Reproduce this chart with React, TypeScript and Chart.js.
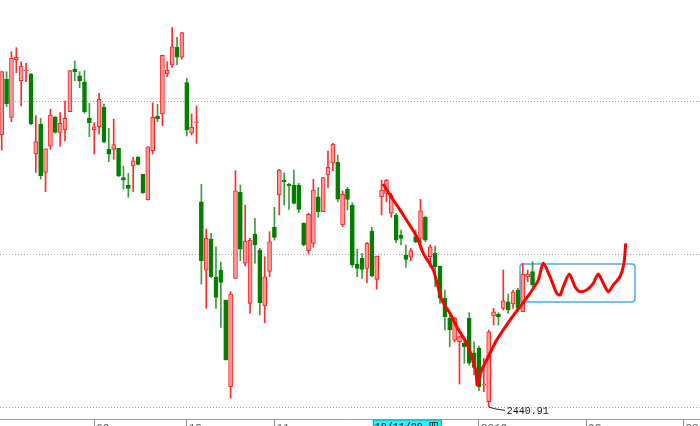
import React, { useEffect, useRef } from 'react';
import { Chart, registerables } from 'chart.js';

Chart.register(...registerables);

// Daily candles (index 0 = first visible trading day)
const OPEN = [
  2721.6, 2779.2, 2739.9, 2799.2, 2777.8, 2787.8, 2784.7, 2702.0, 2732.7, 2683.0,
  2710.2, 2740.5, 2724.4, 2726.8, 2745.7, 2789.9, 2782.9, 2776.7, 2739.2, 2726.8,
  2730.2, 2750.3, 2706.8, 2706.8, 2707.9, 2677.5, 2669.6, 2689.6, 2698.6, 2681.0,
  2654.4, 2705.4, 2741.3, 2743.3, 2784.7, 2794.0, 2812.3, 2802.0, 2775.7, 2723.4,
  2734.0, 2652.6, 2582.0, 2614.1, 2575.1, 2582.0, 2551.0, 2461.4, 2573.4, 2662.4,
  2589.0, 2547.6, 2618.9, 2602.7, 2544.8, 2580.7, 2626.2, 2659.6, 2675.1, 2670.6,
  2669.9, 2669.9, 2630.3, 2602.0, 2609.6, 2657.8, 2642.3, 2680.3, 2692.4, 2693.4,
  2628.6, 2665.5, 2649.2, 2587.9, 2594.1, 2583.8, 2622.4, 2572.4, 2657.8, 2661.3,
  2640.7, 2638.9, 2618.2, 2597.5, 2595.2, 2616.5, 2614.8, 2636.5, 2595.8, 2599.3,
  2586.2, 2552.8, 2532.1, 2509.6, 2507.9, 2506.2, 2532.1, 2496.5, 2501.1, 2463.1,
  2445.8, 2534.5, 2536.5, 2542.4, 2549.2, 2546.9, 2561.3, 2538.9, 2575.1, 2580.3,
];
const HIGH = [
  2787.1, 2787.1, 2807.7, 2811.9, 2797.4, 2795.8, 2785.4, 2741.6, 2738.9, 2707.4,
  2748.2, 2740.5, 2744.7, 2756.8, 2788.1, 2798.1, 2787.1, 2788.1, 2754.4, 2734.3,
  2764.7, 2753.7, 2728.5, 2737.8, 2707.9, 2689.6, 2682.0, 2698.6, 2699.2, 2681.0,
  2709.5, 2755.0, 2753.4, 2804.0, 2797.4, 2832.6, 2822.6, 2827.4, 2780.2, 2743.3,
  2751.6, 2670.6, 2624.4, 2620.0, 2606.1, 2590.3, 2551.0, 2559.6, 2684.7, 2669.9,
  2649.2, 2614.8, 2635.5, 2604.5, 2595.8, 2621.6, 2646.9, 2686.1, 2682.6, 2671.7,
  2685.4, 2671.7, 2630.9, 2640.7, 2675.8, 2667.5, 2677.5, 2705.1, 2713.0, 2700.9,
  2663.7, 2667.5, 2651.6, 2603.4, 2599.3, 2610.3, 2626.2, 2596.5, 2675.1, 2675.8,
  2661.3, 2640.7, 2623.4, 2607.9, 2604.5, 2623.4, 2655.1, 2637.9, 2607.9, 2606.8,
  2586.2, 2561.3, 2537.9, 2533.1, 2513.8, 2509.6, 2537.9, 2507.9, 2503.4, 2490.7,
  2520.0, 2542.4, 2537.9, 2582.0, 2557.2, 2561.3, 2563.1, 2589.0, 2582.0, 2590.6,
];
const LOW = [
  2706.1, 2750.9, 2735.4, 2786.0, 2751.6, 2776.7, 2732.0, 2683.0, 2676.1, 2663.0,
  2706.8, 2723.4, 2710.2, 2715.4, 2745.7, 2777.8, 2770.5, 2744.1, 2719.9, 2702.0,
  2722.6, 2713.7, 2694.0, 2696.5, 2678.5, 2665.5, 2657.2, 2663.0, 2690.6, 2661.3,
  2654.4, 2702.0, 2735.4, 2731.2, 2781.9, 2791.6, 2794.0, 2799.9, 2720.6, 2721.6,
  2713.0, 2567.5, 2542.4, 2574.5, 2542.4, 2522.8, 2489.0, 2449.4, 2573.4, 2591.6,
  2586.2, 2537.3, 2589.0, 2535.5, 2527.5, 2575.1, 2613.0, 2638.9, 2649.2, 2644.8,
  2650.3, 2641.3, 2606.8, 2598.6, 2605.5, 2636.5, 2642.3, 2667.5, 2684.7, 2652.6,
  2626.8, 2644.1, 2584.8, 2575.1, 2573.4, 2568.9, 2575.1, 2562.1, 2638.9, 2652.6,
  2636.5, 2610.3, 2607.9, 2584.8, 2591.6, 2610.3, 2609.6, 2611.3, 2585.4, 2564.8,
  2547.6, 2520.0, 2502.7, 2507.9, 2464.1, 2485.6, 2483.8, 2473.5, 2457.2, 2456.2,
  2440.91, 2525.2, 2525.2, 2540.7, 2537.3, 2542.4, 2538.9, 2538.9, 2569.9, 2564.8,
];
const CLOSE = [
  2787.1, 2753.7, 2800.9, 2802.0, 2793.0, 2788.1, 2733.0, 2714.7, 2679.5, 2707.4,
  2742.3, 2724.4, 2733.7, 2738.9, 2788.1, 2786.8, 2777.5, 2745.7, 2734.3, 2730.2,
  2758.5, 2714.7, 2701.7, 2711.6, 2679.2, 2675.1, 2666.5, 2695.0, 2691.3, 2662.0,
  2709.5, 2739.9, 2738.2, 2804.0, 2788.8, 2812.9, 2802.0, 2827.4, 2726.8, 2729.6,
  2734.3, 2591.6, 2614.8, 2575.1, 2553.8, 2569.3, 2489.0, 2557.2, 2664.0, 2603.7,
  2612.0, 2613.0, 2607.9, 2548.2, 2575.1, 2611.3, 2615.8, 2685.4, 2673.3, 2669.2,
  2651.0, 2644.8, 2607.9, 2639.6, 2664.7, 2642.3, 2677.5, 2688.2, 2712.3, 2655.4,
  2660.3, 2655.1, 2587.2, 2583.8, 2582.7, 2609.6, 2575.8, 2596.5, 2664.7, 2675.1,
  2659.6, 2613.0, 2614.8, 2593.1, 2602.0, 2611.3, 2643.3, 2613.0, 2606.1, 2585.4,
  2552.8, 2533.7, 2520.0, 2532.1, 2513.1, 2502.7, 2485.6, 2481.4, 2461.4, 2464.1,
  2518.2, 2538.9, 2533.7, 2550.3, 2540.7, 2559.6, 2542.4, 2577.9, 2577.9, 2566.5,
];

// Axis ticks (positions are trading-day indices)
const X_TICK_POS = [19, 38, 56, 98, 120, 140];
const X_TICK_LABELS = ['09', '10', '11', '2019', '02', '03'];
const GRID_LEVELS = [2439.8, 2598.0, 2756.2];
const X_RANGE = [-0.35, 143.39];
const Y_RANGE = [2428.0, 2861.2];

// Hand-drawn trend line (index, price)
const TREND_X = [
  78.3, 80.41, 82.46, 85.22, 86.57, 88.62, 90.35, 92.05, 93.43, 95.48, 96.51, 97.39,
  97.66, 98.56, 99.59, 101.64, 104.37, 106.43, 108.48, 110.18, 111.21, 112.59, 113.96,
  114.64, 115.32, 116.55, 117.72, 118.75, 120.12, 121.48, 122.5, 123.53, 124.56,
  125.58, 126.96, 127.78, 128.13,
];
const TREND_Y = [
  2670.9, 2654.4, 2638.9, 2616.5, 2599.3, 2582.0, 2551.0, 2537.3, 2523.4, 2506.2,
  2492.4, 2476.9, 2463.1, 2478.6, 2489.0, 2509.6, 2530.3, 2544.1, 2557.9, 2571.7,
  2589.0, 2575.1, 2557.9, 2556.2, 2564.8, 2577.9, 2564.8, 2559.6, 2561.3, 2568.3,
  2577.9, 2568.3, 2559.6, 2566.5, 2575.1, 2589.0, 2609.6,
];

// Blue box (index range, price range)
const BOX_X = [106.43, 130.04];
const BOX_Y = [2548.9, 2588.2];

// Low marker and cursor label
const LOW_INDEX = 100;
const LOW_VALUE = 2440.91;
const LOW_LABEL = '2440.91';
const CURSOR_INDEX = 76;
const CURSOR_LABEL = '18/11/29 四';

const MONO = '"Liberation Mono", "Noto Sans CJK SC", monospace';

const overlayPlugin = {
  id: 'overlay',
  beforeDatasetsDraw(chart: any) {
    const { ctx, scales } = chart;
    const x = scales.x, y = scales.y;
    const x0 = x.getPixelForValue(BOX_X[0]);
    const x1 = x.getPixelForValue(BOX_X[1]);
    const y0 = y.getPixelForValue(BOX_Y[1]);
    const y1 = y.getPixelForValue(BOX_Y[0]);
    ctx.save();
    ctx.strokeStyle = '#52a8ec';
    ctx.lineWidth = 1.5;
    ctx.beginPath();
    if (ctx.roundRect) ctx.roundRect(x0, y0, x1 - x0, y1 - y0, 3);
    else ctx.rect(x0, y0, x1 - x0, y1 - y0);
    ctx.stroke();
    ctx.restore();
  },
  afterDatasetsDraw(chart: any) {
    const { ctx, scales } = chart;
    const px = scales.x.getPixelForValue(LOW_INDEX);
    const py = scales.y.getPixelForValue(LOW_VALUE);
    ctx.save();
    ctx.strokeStyle = '#222';
    ctx.lineWidth = 1;
    ctx.beginPath();
    ctx.moveTo(px, py + 0.5);
    ctx.lineTo(px + 5.6, py + 2.2);
    ctx.lineTo(px + 16.3, py + 3.9);
    ctx.stroke();
    ctx.fillStyle = '#111';
    ctx.font = '10px ' + MONO;
    ctx.textBaseline = 'middle';
    ctx.textAlign = 'left';
    ctx.fillText(LOW_LABEL, px + 18, py + 4.5);
    ctx.restore();
  },
  afterDraw(chart: any) {
    const { ctx, scales, chartArea } = chart;
    const px = scales.x.getPixelForValue(CURSOR_INDEX);
    const top = chartArea.bottom + 0.5;
    ctx.save();
    ctx.fillStyle = '#2ef0f4';
    ctx.fillRect(px + 1, top, 69, 12);
    ctx.strokeStyle = '#1aa0a8';
    ctx.lineWidth = 1;
    ctx.strokeRect(px + 1.5, top + 0.5, 68, 12);
    ctx.fillStyle = '#000';
    ctx.font = '10px ' + MONO;
    ctx.textBaseline = 'top';
    ctx.textAlign = 'left';
    ctx.fillText(CURSOR_LABEL, px + 3, top + 2.5);
    ctx.restore();
  },
};

export default function App() {
  const ref = useRef<HTMLCanvasElement>(null);

  useEffect(() => {
    const idx = OPEN.map((_, i) => i);
    const up = OPEN.map((o, i) => CLOSE[i] >= o);

    const chart = new Chart(ref.current as HTMLCanvasElement, {
      type: 'bar',
      data: {
        datasets: [
          {
            type: 'bar',
            data: idx.map((i) => ({ x: i, y: [LOW[i], HIGH[i]] })) as any,
            backgroundColor: up.map((u) => (u ? '#ff2a2a' : '#3c9c3c')),
            borderWidth: 0,
            barThickness: 1,
            grouped: false,
            order: 3,
          } as any,
          {
            type: 'bar',
            data: idx.map((i) => ({ x: i, y: [OPEN[i], CLOSE[i]] })) as any,
            backgroundColor: up.map((u) => (u ? '#ff9a9a' : '#007f00')),
            borderColor: up.map((u) => (u ? '#ff2020' : '#007f00')),
            borderWidth: 1,
            borderSkipped: false,
            barThickness: 4,
            minBarLength: 1,
            grouped: false,
            order: 2,
          } as any,
          {
            type: 'line',
            data: TREND_X.map((v, i) => ({ x: v, y: TREND_Y[i] })) as any,
            borderColor: '#ff0000',
            borderWidth: 3,
            pointRadius: 0,
            tension: 0.25,
            order: 1,
          } as any,
        ],
      },
      options: {
        animation: false,
        responsive: true,
        maintainAspectRatio: false,
        events: [],
        layout: { padding: 0 },
        plugins: { legend: { display: false }, tooltip: { enabled: false } },
        scales: {
          x: {
            type: 'linear',
            min: X_RANGE[0],
            max: X_RANGE[1],
            offset: false,
            afterBuildTicks: (s: any) => {
              s.ticks = X_TICK_POS.map((v) => ({ value: v }));
            },
            afterFit: (s: any) => {
              s.height = 7;
            },
            grid: {
              display: true,
              drawOnChartArea: false,
              drawTicks: true,
              tickLength: 8,
              tickColor: '#8a8a8a',
              offset: false,
            },
            border: { display: true, color: '#9a9a9a', width: 1 },
            ticks: {
              autoSkip: false,
              maxRotation: 0,
              minRotation: 0,
              align: 'start',
              padding: -6,
              labelOffset: 2,
              color: '#555',
              font: { family: MONO, size: 11 },
              callback: (_v: any, i: number) => X_TICK_LABELS[i],
            },
          } as any,
          y: {
            type: 'linear',
            position: 'left',
            min: Y_RANGE[0],
            max: Y_RANGE[1],
            afterBuildTicks: (s: any) => {
              s.ticks = GRID_LEVELS.map((v) => ({ value: v }));
            },
            afterFit: (s: any) => {
              s.width = 0;
            },
            grid: { drawTicks: false, color: '#a0a0a0', lineWidth: 1 },
            border: { display: false, dash: [1, 2] },
            ticks: { display: false },
          } as any,
        },
      },
      plugins: [overlayPlugin],
    });
    return () => chart.destroy();
  }, []);

  return (
    <div
      style={{
        position: 'fixed',
        left: 0,
        top: 0,
        width: 700,
        height: 426,
        background: '#fff',
      }}
    >
      <canvas ref={ref} />
    </div>
  );
}
